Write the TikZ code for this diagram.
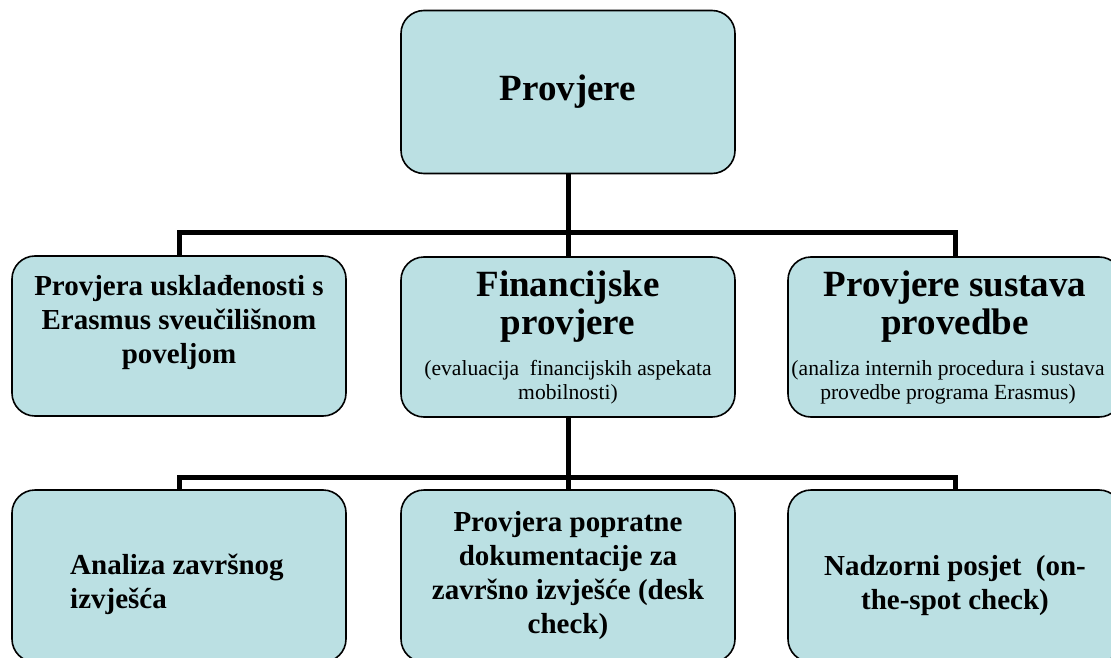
\documentclass[tikz,border=0pt]{standalone}
\usepackage{fontspec}
\setmainfont{Liberation Serif}
\definecolor{boxfill}{RGB}{187,224,227}
\tikzset{
  box/.style={draw=black, line width=1.6pt, fill=boxfill, rounded corners=23pt,
    minimum width=334pt, inner sep=0pt, align=center, font=\bfseries\fontsize{29}{34}\selectfont},
  txt/.style={inner sep=0pt, align=center, font=\bfseries\fontsize{29}{34}\selectfont},
  conn/.style={draw=black, line width=5pt, line join=miter},
}
\newcommand{\bigt}{\fontsize{37}{38}\selectfont}
\newcommand{\smallt}{\mdseries\fontsize{21.6}{24}\selectfont}
\begin{document}
\begin{tikzpicture}[x=1pt,y=-1pt]
\useasboundingbox (0,0) rectangle (1111,658);
\clip (0,0) rectangle (1111,658);
% coordinates of junctions
\coordinate (j1) at (568,232);
\coordinate (j2) at (568,477);
% boxes
\node[box, minimum height=163pt, font=\bfseries\bigt] (top) at (568,92) {Provjere};
\node[box, minimum height=160pt] (l1) at (179,336) {};
\node[txt] (l1t) at (179,323) {Provjera usklađenosti s\\Erasmus sveučilišnom\\poveljom};
\node[box, minimum height=160pt, font=\bfseries\bigt] (m1) at (568,337) {Financijske\\provjere\\[3pt]{\smallt (evaluacija\ \ financijskih aspekata}\\[-14pt]{\smallt mobilnosti)}};
\node[box, minimum height=160pt, font=\bfseries\bigt] (r1) at (955,337) {Provjere sustava\\provedbe\\[3pt]{\smallt (analiza internih procedura i sustava\rule{14pt}{0pt}}\\[-14pt]{\smallt provedbe programa Erasmus)\rule{14pt}{0pt}}};
\node[box, minimum height=172pt] (l2) at (179,576) {};
\node[txt, align=left, anchor=west] (l2t) at (70,584) {Analiza završnog\\izvješća};
\node[box, minimum height=172pt] (m2) at (568,576) {Provjera popratne\\dokumentacije za\\završno izvješće (desk\\check)};
\node[box, minimum height=172pt] (r2) at (955,576) {};
\node[txt] (r2t) at (955,586) {Nadzorni posjet\ \ (on-\\the-spot check)};
% connectors
\draw[conn] (top.south) -- (j1);
\draw[conn] (l1.north) |- (j1) -| (r1.north);
\draw[conn] (j1) -- (m1.north);
\draw[conn] (m1.south) -- (j2);
\draw[conn] (l2.north) |- (j2) -| (r2.north);
\draw[conn] (j2) -- (m2.north);
\end{tikzpicture}
\end{document}
